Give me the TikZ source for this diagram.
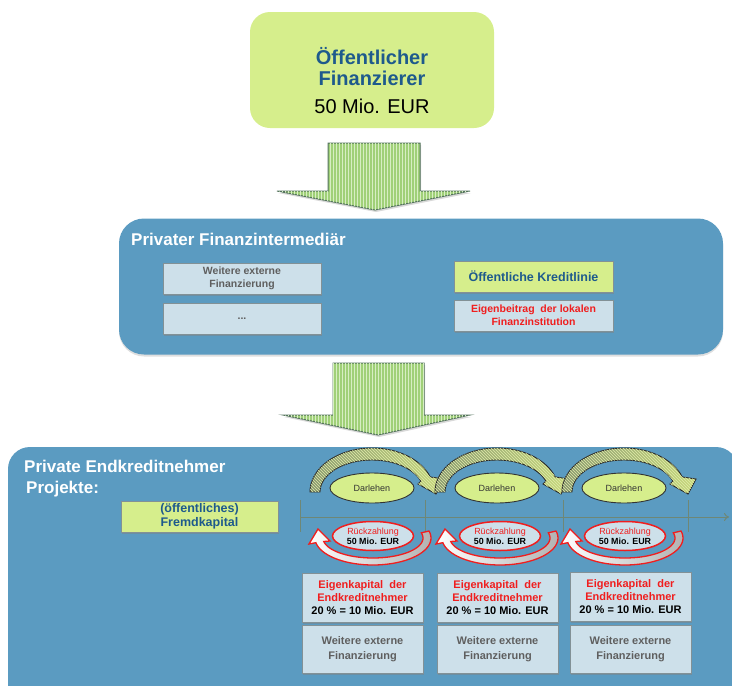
\documentclass[tikz,border=0pt]{standalone}
\usepackage{fontspec}
\setmainfont{Liberation Sans}
\usetikzlibrary{shadows,patterns,shapes.geometric,arrows.meta}
\definecolor{greenbox}{RGB}{214,238,140}
\definecolor{dblue}{RGB}{30,90,140}
\definecolor{panel}{RGB}{91,155,193}
\definecolor{lightbox}{RGB}{205,224,234}
\definecolor{boxedge}{RGB}{130,145,150}
\definecolor{graytext}{RGB}{95,95,95}
\definecolor{redtext}{RGB}{240,30,30}
\definecolor{arrowgreen}{RGB}{160,208,120}
\definecolor{arrowstripe}{RGB}{215,238,195}
\definecolor{arrowedge}{RGB}{85,115,95}
\definecolor{arcdark}{RGB}{135,150,112}
\definecolor{arclight}{RGB}{200,218,125}
\definecolor{arcstripe}{RGB}{225,235,170}
\definecolor{timeline}{RGB}{110,135,118}
\begin{document}
\begin{tikzpicture}[x=1pt,y=-1pt,
  box/.style={draw=boxedge, line width=0.8pt, fill=lightbox, inner sep=0pt, align=center,
    drop shadow={shadow xshift=1.2pt, shadow yshift=-1.6pt, opacity=0.45}},
  gbox/.style={box, fill=greenbox},
  panelbox/.style={fill=panel, rounded corners=25pt, inner sep=0pt,
    drop shadow={shadow xshift=0pt, shadow yshift=-2pt, opacity=0.25}},
  ptitle/.style={text=white, font=\bfseries\fontsize{17}{20}\selectfont, inner sep=0pt, anchor=base west},
  bigarrow/.style={fill=arrowgreen, draw=arrowedge, line width=1pt,
    postaction={pattern=vertical lines, pattern color=arrowstripe},
    drop shadow={shadow xshift=1pt, shadow yshift=-2pt, opacity=0.3}},
  uparc/.style={draw=black!85, line width=0.9pt, left color=arcdark, right color=arclight,
    postaction={pattern=north west lines, pattern color=arcstripe}},
  redarc/.style={draw=redtext, line width=1.3pt, left color=white, middle color=white, right color=gray!60},
  darl/.style={ellipse, fill=greenbox, draw=black!80, line width=0.9pt, minimum width=84pt, minimum height=30pt, inner sep=0pt,
    font=\fontsize{9}{10}\selectfont, text=black!80},
  rueck/.style={ellipse, fill=lightbox, draw=redtext, line width=1.5pt, minimum width=81pt, minimum height=29pt, inner sep=0pt,
    align=center, font=\fontsize{8.9}{9.8}\selectfont},
  midtxt/.style={font=\bfseries\fontsize{10.5}{13}\selectfont},
  ektxt/.style={font=\bfseries\fontsize{11}{12.6}\selectfont},
  wtxt/.style={font=\bfseries\fontsize{11}{14.5}\selectfont, text=graytext},
]
\useasboundingbox (0,0) rectangle (732,686);
\clip (0,0) rectangle (732,686);

% top box
\node[fill=greenbox, rounded corners=20pt, minimum width=244pt, minimum height=116pt, inner sep=0pt] (top) at (372,70) {};
\node[align=center, inner sep=0pt, font=\fontsize{20}{21}\selectfont] (toptext) at (372,81)
  {\textcolor{dblue}{\bfseries Öffentlicher}\\\textcolor{dblue}{\bfseries Finanzierer}\\[7pt]50 Mio. EUR};

% arrow 1
\path[bigarrow] (328,143) -- (420,143) -- (420,191) -- (470,191) -- (375,210) -- (277,191) -- (328,191) -- cycle;

% middle panel
\node[panelbox, minimum width=604pt, minimum height=136pt] (mid) at (421,286.5) {};
\node[ptitle] (midtitle) at (131,245) {Privater Finanzintermediär};
\node[box, minimum width=158pt, minimum height=31pt, midtxt, text=graytext] (w1) at (242,278.5) {Weitere externe\\Finanzierung};
\node[box, minimum width=158pt, minimum height=31pt, midtxt, text=graytext] (dots) at (242,318.5) {...};
\node[gbox, minimum width=159pt, minimum height=31pt, font=\bfseries\fontsize{12.5}{14}\selectfont, text=dblue] (kl) at (533.5,276.5) {Öffentliche Kreditlinie};
\node[box, minimum width=159pt, minimum height=31pt, midtxt, text=redtext] (eb) at (533.5,315.5) {Eigenbeitrag\ \ der lokalen\\Finanzinstitution};

% arrow 2
\path[bigarrow] (333,363) -- (424,363) -- (424,415) -- (470,415) -- (378,435) -- (283,415) -- (333,415) -- cycle;

% bottom panel
\node[panelbox, minimum width=730pt, minimum height=273pt, rounded corners=22pt] (bottom) at (373,583.5) {};
\node[ptitle] (bt1) at (24,472) {Private Endkreditnehmer};
\node[ptitle] (bt2) at (26,493) {Projekte:};
\node[gbox, minimum width=157pt, minimum height=31pt, font=\bfseries\fontsize{12.5}{13.5}\selectfont, text=dblue] (fk) at (199.5,516.5) {(öffentliches)\\Fremdkapital};

% timeline
\coordinate (t0) at (300,517);
\coordinate (tend) at (729,517);
\draw[timeline, line width=1pt, -{To[length=5pt,width=8pt]}] (t0) -- (tend);
\foreach \tx in {300,425,563,688} {
  \draw[timeline, line width=1pt] (\tx,500) -- (\tx,532);
}

% upper curved arrows
\foreach \c in {372,497,624} {
  \path[uparc] plot[domain=180:340, samples=40] ({\c+62*cos(\x)},{492+44*sin(\x)})
    -- ({\c+72},{479}) -- ({\c+64},{494}) -- ({\c+46},{484})
    -- plot[domain=340:180, samples=40] ({\c+52*cos(\x)},{492+32*sin(\x)}) -- cycle;
}
\node[darl] (d1) at (372,488) {Darlehen};
\node[darl] (d2) at (497,488) {Darlehen};
\node[darl] (d3) at (624,488) {Darlehen};

% lower red curved arrows
\foreach \c in {373,500,625} {
  \path[redarc] plot[domain=-15:170, samples=40] ({\c+58*cos(\x)},{538+27*sin(\x)})
    -- ({\c-64},{544}) -- ({\c-55},{529}) -- ({\c-43},{541})
    -- plot[domain=170:-15, samples=40] ({\c+50*cos(\x)},{538+20*sin(\x)}) -- cycle;
}
\node[rueck] (r1) at (373,536) {\textcolor{redtext}{Rückzahlung}\\\textbf{50 Mio. EUR}};
\node[rueck] (r2) at (500,536) {\textcolor{redtext}{Rückzahlung}\\\textbf{50 Mio. EUR}};
\node[rueck] (r3) at (625,536) {\textcolor{redtext}{Rückzahlung}\\\textbf{50 Mio. EUR}};

% equity boxes
\node[box, minimum width=121pt, minimum height=49pt, ektxt] (ek1) at (362.5,597.5)
  {\textcolor{redtext}{Eigenkapital\ \ der}\\\textcolor{redtext}{Endkreditnehmer}\\20 \% = 10 Mio. EUR};
\node[box, minimum width=121pt, minimum height=49pt, ektxt] (ek2) at (497.5,597.5)
  {\textcolor{redtext}{Eigenkapital\ \ der}\\\textcolor{redtext}{Endkreditnehmer}\\20 \% = 10 Mio. EUR};
\node[box, minimum width=121pt, minimum height=49pt, ektxt] (ek3) at (630.5,596.5)
  {\textcolor{redtext}{Eigenkapital\ \ der}\\\textcolor{redtext}{Endkreditnehmer}\\20 \% = 10 Mio. EUR};
\node[box, minimum width=121pt, minimum height=48pt, wtxt] (we1) at (362.5,649) {Weitere externe\\Finanzierung};
\node[box, minimum width=121pt, minimum height=48pt, wtxt] (we2) at (497.5,649) {Weitere externe\\Finanzierung};
\node[box, minimum width=121pt, minimum height=48pt, wtxt] (we3) at (630.5,649) {Weitere externe\\Finanzierung};
\end{tikzpicture}
\end{document}
